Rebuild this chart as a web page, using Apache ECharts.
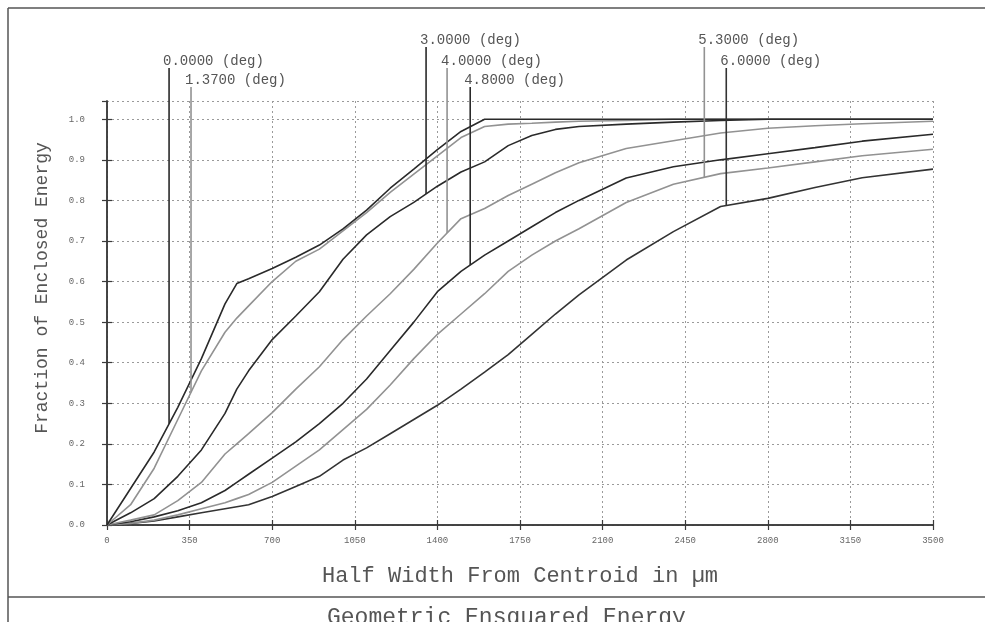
<!DOCTYPE html>
<html><head><meta charset="utf-8">
<script src="https://cdn.jsdelivr.net/npm/echarts@6/dist/echarts.min.js"></script>
<style>html,body{margin:0;padding:0;background:#fff}#c{width:985px;height:622px}</style>
</head><body><div id="c"></div>
<script>
// ---- data ----
const halfWidth = [0,100,200,300,400,500,550,600,700,800,900,1000,1100,1200,1300,1400,1500,1600,1700,1800,1900,2000,2200,2400,2600,2800,3000,3200,3500];
const field0000 = [0,0.09,0.18,0.29,0.41,0.545,0.595,0.607,0.632,0.66,0.69,0.73,0.776,0.83,0.877,0.925,0.97,1.0,1.0,1.0,1.0,1.0,1.0,1.0,1.0,1.0,1.0,1.0,1.0];
const field1370 = [0,0.05,0.14,0.26,0.38,0.475,0.51,0.54,0.60,0.65,0.68,0.725,0.77,0.82,0.865,0.91,0.955,0.982,0.988,0.99,0.993,0.995,0.997,1.0,1.0,1.0,1.0,1.0,1.0];
const field3000 = [0,0.03,0.065,0.12,0.185,0.275,0.335,0.38,0.457,0.515,0.575,0.655,0.715,0.76,0.795,0.835,0.87,0.895,0.935,0.96,0.975,0.982,0.988,0.993,0.997,1.0,1.0,1.0,1.0];
const field4000 = [0,0.012,0.025,0.06,0.105,0.175,0.2,0.225,0.277,0.335,0.39,0.457,0.515,0.57,0.63,0.695,0.755,0.78,0.812,0.84,0.868,0.893,0.928,0.947,0.966,0.978,0.984,0.989,0.995];
const field4800 = [0,0.008,0.02,0.035,0.055,0.085,0.105,0.125,0.165,0.205,0.25,0.30,0.36,0.43,0.50,0.575,0.625,0.665,0.70,0.735,0.77,0.80,0.855,0.883,0.90,0.915,0.93,0.946,0.963];
const field5300 = [0,0.004,0.012,0.025,0.04,0.055,0.065,0.075,0.105,0.145,0.185,0.235,0.285,0.345,0.41,0.47,0.52,0.57,0.625,0.665,0.70,0.73,0.795,0.84,0.866,0.88,0.895,0.91,0.926];
const field6000 = [0,0.004,0.01,0.02,0.03,0.04,0.045,0.05,0.07,0.095,0.12,0.16,0.19,0.225,0.26,0.295,0.335,0.377,0.42,0.47,0.52,0.567,0.653,0.723,0.785,0.805,0.832,0.856,0.877];
const fieldLabels = ['0.0000 (deg)','1.3700 (deg)','3.0000 (deg)','4.0000 (deg)','4.8000 (deg)','5.3000 (deg)','6.0000 (deg)'];
const markerX = [263, 356, 1352, 1441, 1539, 2531, 2624];
const xAxisTitle = 'Half Width From Centroid in µm';
const yAxisTitle = 'Fraction of Enclosed Energy';
const plotTitle = 'Geometric Ensquared Energy';

// ---- layout / style ----
const fields = [field0000, field1370, field3000, field4000, field4800, field5300, field6000];
const colors = ['#2a2a2a','#929292','#2a2a2a','#929292','#2a2a2a','#929292','#333333'];
const labelRowY = [61, 80, 40, 61, 80, 40, 61];
const MONO = '"Liberation Mono", "DejaVu Sans Mono", monospace';

const chart = echarts.init(document.getElementById('c'), null, {renderer:'canvas'});
const axisCommon = {
  min: 0,
  axisLine: {show: true, lineStyle: {color: '#3a3a3a', width: 1.5}},
  axisTick: {show: true, inside: true, length: 5, lineStyle: {color: '#3a3a3a', width: 1.2}},
};
const option = {
  animation: false,
  backgroundColor: '#fff',
  title: {text: plotTitle, left: 322, top: 601, textStyle: {fontFamily: MONO, fontSize: 23, fontWeight: 'normal', color: '#555'}},
  grid: {left: 107, right: 52, top: 101, bottom: 97, containLabel: false},
  xAxis: [
    Object.assign({}, axisCommon, {type: 'value', max: 3500, interval: 350, position: 'bottom',
      name: xAxisTitle, nameLocation: 'middle', nameGap: 40,
      nameTextStyle: {fontFamily: MONO, fontSize: 22, color: '#555'},
      axisLabel: {fontFamily: MONO, fontSize: 9, color: '#666', margin: 11, formatter: v => String(v)},
      splitLine: {show: true, lineStyle: {color: '#9a9a9a', type: [2, 3], width: 1}}}),
    Object.assign({}, axisCommon, {type: 'value', max: 3500, interval: 350, position: 'top',
      axisLabel: {show: false}, splitLine: {show: false}})
  ],
  yAxis: [
    Object.assign({}, axisCommon, {type: 'value', max: 1.045, interval: 0.1, position: 'left',
      name: yAxisTitle, nameLocation: 'middle', nameGap: 56, nameRotate: 90,
      nameTextStyle: {fontFamily: MONO, fontSize: 18, color: '#555', padding: [0, 0, 0, 50]},
      axisLabel: {fontFamily: MONO, fontSize: 9, color: '#666', margin: 22, showMaxLabel: false,
        formatter: v => v.toFixed(1)},
      splitLine: {show: true, lineStyle: {color: '#9a9a9a', type: [2, 3], width: 1}}}),
    Object.assign({}, axisCommon, {type: 'value', max: 1.045, interval: 0.1, position: 'right',
      axisLabel: {show: false}, splitLine: {show: false}})
  ],
  series: fields.map((vals, i) => ({
    name: fieldLabels[i], type: 'line', showSymbol: false, symbol: 'none',
    data: halfWidth.map((x, j) => [x, vals[j]]),
    lineStyle: {color: colors[i], width: 1.6}, z: 10 - i
  }))
};
chart.setOption(option);

function valueAt(vals, x) {
  for (let j = 1; j < halfWidth.length; j++) {
    if (x <= halfWidth[j]) {
      const t = (x - halfWidth[j-1]) / (halfWidth[j] - halfWidth[j-1]);
      return vals[j-1] + t * (vals[j] - vals[j-1]);
    }
  }
  return vals[vals.length - 1];
}

const graphics = [
  {type: 'line', shape: {x1: 8, y1: 8, x2: 8, y2: 622}, style: {stroke: '#555', lineWidth: 1.5}},
  {type: 'line', shape: {x1: 8, y1: 8, x2: 985, y2: 8}, style: {stroke: '#555', lineWidth: 1.5}},
  {type: 'line', shape: {x1: 8, y1: 597, x2: 985, y2: 597}, style: {stroke: '#555', lineWidth: 1.5}}
];
fields.forEach((vals, i) => {
  const px = chart.convertToPixel({xAxisIndex: 0}, markerX[i]);
  const py = chart.convertToPixel({yAxisIndex: 0}, valueAt(vals, markerX[i]));
  const ty = labelRowY[i];
  graphics.push({type: 'line', z: 20, shape: {x1: px, y1: ty + 7, x2: px, y2: py},
    style: {stroke: colors[i], lineWidth: 1.6}});
  graphics.push({type: 'text', z: 20, style: {text: fieldLabels[i], x: px - 6, y: ty,
    font: '14px ' + MONO, fill: '#555', verticalAlign: 'middle', align: 'left'}});
});
chart.setOption({graphic: graphics});
</script></body></html>
